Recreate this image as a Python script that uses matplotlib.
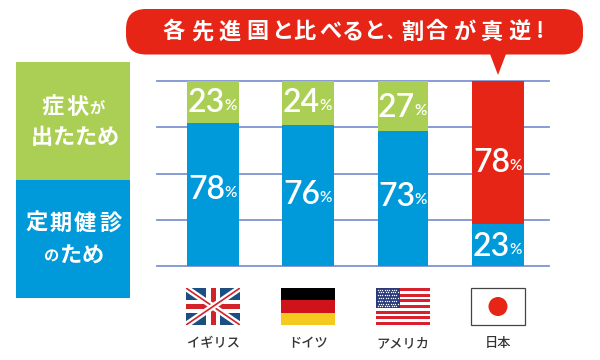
import matplotlib
matplotlib.use("Agg")
import matplotlib.pyplot as plt
from matplotlib.patches import FancyBboxPatch, Polygon, Rectangle, Circle

plt.rcParams['font.family'] = ['Noto Sans CJK JP', 'DejaVu Sans']

countries = ["イギリス", "ドイツ", "アメリカ", "日本"]
checkup = [78, 76, 73, 23]
symptoms = [23, 24, 27, 78]
title_a = "各先進国と比べると"
title_b = "割合が真逆!"

# where things sit on the picture, in pixels
title_a_x = [174, 202, 230, 257, 282, 304, 330, 352, 374]
title_b_x = [412, 437, 465, 492, 520, 540]
centers = [213, 308, 403, 498]
low_label_y = [190, 195, 197, 247]
top_label_y = [103, 103, 108, 163]

GREEN = "#abcf55"
BLUE = "#0099da"
RED = "#e72517"
GRID = "#7f93d3"
W, H = 600, 360


def chars(ax, s, xs, y, size, weight="bold", color="white"):
    for c, x in zip(s, xs):
        ax.text(x, y, c, fontsize=size, color=color, weight=weight,
                ha="center", va="center")


def pct(ax, x, y, v):
    # number and the small % sign are set apart, like the original
    ax.text(x + 12, y, str(v), fontsize=23, color="white", ha="right", va="center",
            family="Lato", weight="semibold")
    ax.text(x + 11, y + 3, "%", fontsize=11, color="white", ha="left", va="center",
            family="Lato", weight="semibold")


def flag_uk(ax, x, y, w, h):
    clip = Rectangle((x, y), w, h, fc="#1b4f82", ec="none")
    ax.add_patch(clip)
    for a, b in [((x, y), (x + w, y + h)), ((x, y + h), (x + w, y))]:
        l, = ax.plot([a[0], b[0]], [a[1], b[1]], color="white", lw=4.5, solid_capstyle="butt")
        l.set_clip_path(clip)
        l, = ax.plot([a[0], b[0]], [a[1], b[1]], color="#d2232a", lw=1.2, solid_capstyle="butt")
        l.set_clip_path(clip)
    ax.add_patch(Rectangle((x + w / 2 - 7, y), 14, h, fc="white", ec="none"))
    ax.add_patch(Rectangle((x, y + h / 2 - 6.5), w, 13, fc="white", ec="none"))
    ax.add_patch(Rectangle((x + w / 2 - 2.5, y), 5, h, fc="#d2232a", ec="none"))
    ax.add_patch(Rectangle((x, y + h / 2 - 2.5), w, 5, fc="#d2232a", ec="none"))


def flag_de(ax, x, y, w, h):
    for i, c in enumerate(["#000000", "#d0121b", "#f6c91e"]):
        ax.add_patch(Rectangle((x, y + i * h / 3), w, h / 3, fc=c, ec="none"))


def flag_us(ax, x, y, w, h):
    for i in range(13):
        c = "#d9202c" if i % 2 == 0 else "white"
        ax.add_patch(Rectangle((x, y + i * h / 13), w, h / 13, fc=c, ec="none"))
    cw, ch = w * 0.45, h * 7 / 13
    ax.add_patch(Rectangle((x, y), cw, ch, fc="#2b3a7a", ec="none"))
    xs, ys = [], []
    for r in range(7):
        for c in range(9):
            xs.append(x + 1.5 + (c + 0.5 * (r % 2)) * (cw - 3) / 9)
            ys.append(y + 1.5 + r * (ch - 3) / 6)
    ax.scatter(xs, ys, s=1, color="white", linewidths=0)


def flag_jp(ax, x, y, w, h):
    ax.add_patch(Rectangle((x, y), w, h, fc="white", ec="#444444", lw=0.9))
    ax.add_patch(Circle((x + w / 2, y + h / 2), 9.5, fc=RED, ec="none"))


fig = plt.figure(figsize=(W / 100, H / 100), dpi=100)

# chart part, placed on the picture in pixels
ax = fig.add_axes([157 / W, (H - 266) / H, 392 / W, 185 / H])
pos = list(range(len(countries)))
share_low = [a / (a + b) for a, b in zip(checkup, symptoms)]
share_top = [b / (a + b) for a, b in zip(checkup, symptoms)]
low_colors = [BLUE] * 4
top_colors = [GREEN, GREEN, GREEN, RED]
widths = [0.55, 0.55, 0.53, 0.55]
ax.bar(pos, share_low, width=widths, color=low_colors, zorder=3)
ax.bar(pos, share_top, width=widths, bottom=share_low, color=top_colors, zorder=3)
ax.set_xlim(-0.589, 3.537)
ax.set_ylim(0, 1)
ax.set_yticks([0, 0.25, 0.5, 0.75, 1])
ax.set_xticks([])
ax.tick_params(left=False, labelleft=False)
ax.grid(axis="y", color=GRID, lw=1.3, zorder=1)
ax.set_axisbelow(True)
for s in ax.spines.values():
    s.set_visible(False)
for g in ax.get_ygridlines():
    g.set_clip_on(False)

# everything else in pixel coordinates
ov = fig.add_axes([0, 0, 1, 1], zorder=5)
ov.set_xlim(0, W)
ov.set_ylim(H, 0)
ov.axis("off")
ov.patch.set_alpha(0)

ov.add_patch(Rectangle((16, 62), 114, 118, fc=GREEN, ec="none"))
ov.add_patch(Rectangle((16, 180), 114, 118, fc=BLUE, ec="none"))
chars(ov, "症状", [53, 77], 107, 16)
ov.text(97, 108, "が", fontsize=11, color="white", weight="bold", ha="center", va="center")
chars(ov, "出たため", [42, 64, 86, 108], 137, 16)
chars(ov, "定期健診", [37, 61, 85, 110], 223, 16)
ov.text(52, 257, "の", fontsize=11, color="white", weight="bold", ha="center", va="center")
chars(ov, "ため", [71, 93], 255, 16)

ov.add_patch(FancyBboxPatch((126, 9), 457, 45.5, boxstyle="round,pad=0,rounding_size=20",
                            fc=RED, ec="none"))
ov.add_patch(Polygon([(490, 54), (506, 54), (498, 75)], fc=RED, ec="none"))
chars(ov, title_a, title_a_x, 32, 16)
ov.text(394, 33, "、", fontsize=11, color="white", weight="bold", ha="center", va="center")
chars(ov, title_b, title_b_x, 32, 16)

for c, yl, yt, a, b in zip(centers, low_label_y, top_label_y, checkup, symptoms):
    pct(ov, c, yl, a)
    pct(ov, c, yt, b)

flag_uk(ov, 186, 288, 54, 37)
flag_de(ov, 281, 288, 54, 37)
flag_us(ov, 376, 288, 54, 37)
flag_jp(ov, 471, 288, 54, 37)

for c, name in zip(centers, countries):
    ov.text(c, 343, name, fontsize=9.5, color="#333333", weight="medium", ha="center", va="center")

fig.savefig("out.png", dpi=100)
